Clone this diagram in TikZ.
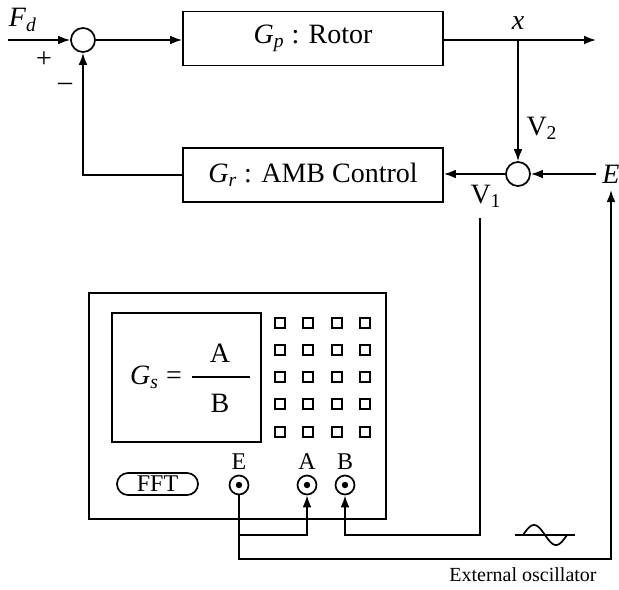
\documentclass[tikz,border=0pt]{standalone}
\usepackage{fontspec}
\setmainfont{Liberation Serif}
\usetikzlibrary{arrows.meta}
\newcommand{\vsub}[2]{\textit{#1}\textsubscript{\textit{#2}}}

\begin{document}
\begin{tikzpicture}[x=0.5pt,y=-0.5pt,line width=0.85pt,
		>={Latex[length=6pt,width=4.4pt]},
		block/.style={draw, minimum width=130pt, minimum height=27pt, font=\fontsize{14}{16}\selectfont},
		sumnode/.style={draw, circle, minimum size=12pt, inner sep=0pt},
		jack/.style={draw, circle, minimum size=9.5pt, inner sep=0pt},
		lbl/.style={font=\fontsize{14}{16}\selectfont, inner sep=1pt},
		small/.style={font=\fontsize{12}{14}\selectfont, inner sep=1pt}]
		\useasboundingbox (0,0) rectangle (619,589);

		\node[sumnode] (s1) at (83,40) {};
		\node[sumnode] (s2) at (518,174) {};
		\node[block] (gp) at (313,38.5) {\vsub{G}{p} : Rotor};
		\node[block] (gr) at (313,175) {\vsub{G}{r} : AMB Control};

		\coordinate (fin) at (8,40);
		\coordinate (xout) at (596,40);

		\node[lbl] (fd) at (23,20) {\vsub{F}{d}};
		\node[lbl] (plus) at (44,60) {+};
		\node[lbl] (minus) at (65,87) {\textendash};
		\node[lbl] (x) at (518,23) {\textit{x}};
		\node[lbl] (v2) at (542,128) {V\textsubscript{2}};
		\node[lbl] (v1) at (486,196) {V\textsubscript{1}};
		\node[lbl, inner sep=3pt] (E) at (611,174) {\textit{E}};

		\draw[->] (fin) -- (s1);
		\draw[->] (s1) -- (gp.west |- s1);
		\draw[->] (gp.east |- s1) -- (xout);
		\draw[->] (s2 |- s1) -- (s2);
		\draw[->] (E) -- (s2);
		\draw[->] (s2) -- (gr.east |- s2);
		\draw[->] (gr) -| (s1);

		% FFT analyser
		\draw (89,293) rectangle (386,519);
		\draw (112,313) rectangle (261,442);
		\foreach \c in {280,308,337,365}
			\foreach \r in {323,350,377,404,432}
				\draw (\c-5,\r-5) rectangle (\c+5,\r+5);

		\node[lbl] (gs) at (156,377) {\vsub{G}{s} =};
		\draw (192,377) -- (250,377);
		\node[lbl] (numA) at (220,353) {A};
		\node[lbl] (denB) at (220,403) {B};

		\node[draw, rounded corners=5.5pt, minimum width=40.5pt, minimum height=11pt, inner sep=0pt,
			font=\fontsize{12}{14}\selectfont] (fft) at (157.5,484) {FFT};

		\foreach \n/\x in {E/239,A/307,B/345} {
			\node[jack] (j\n) at (\x,485) {};
			\fill (j\n) circle (1.6pt);
			\node[small] (l\n) at (\x,462) {\n};
		}

		% wiring
		\coordinate (oscB) at (611,559);
		\coordinate (brA) at (307,535);
		\coordinate (v1w) at (480,218);
		\coordinate (brB) at (345,535);

		\draw[->] (jE) |- (oscB) -- (E);
		\draw[->] (jE |- brA) -| (jA);
		\draw[->] (v1w) |- (brB) -- (jB);

		\draw (515,535) -- (575,535);
		\draw[domain=0:360, samples=49, smooth, variable=\t] plot ({523+44*\t/360}, {535-10*sin(\t)});
		\node[font=\fontsize{10}{12}\selectfont] (osc) at (523,575) {External oscillator};
	\end{tikzpicture}
\end{document}
